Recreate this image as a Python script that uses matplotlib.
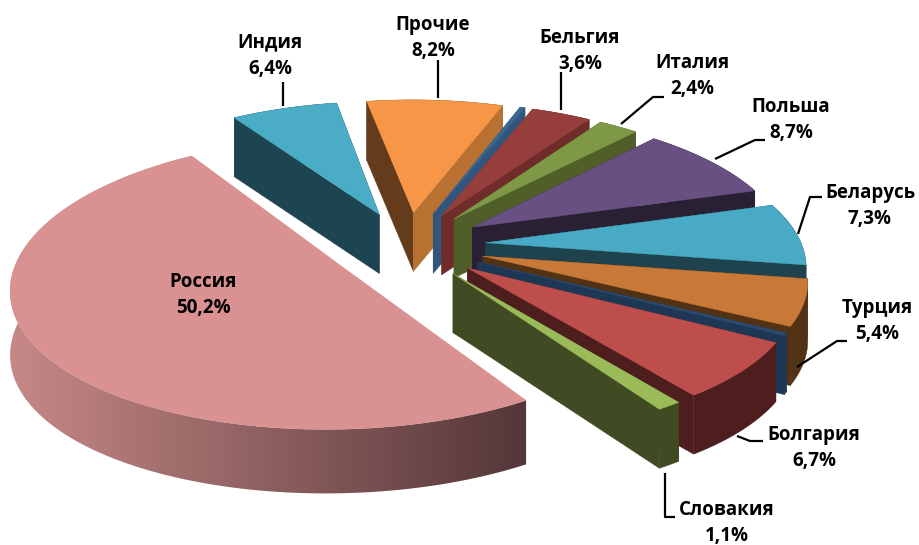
import numpy as np
import matplotlib
matplotlib.use('Agg')
import matplotlib.pyplot as plt
from matplotlib.patches import Polygon

# clockwise from Russia, the two blank names are the thin unlabelled slices
categories = ['Россия', 'Индия', 'Прочие', '', 'Бельгия', 'Италия', 'Польша',
              'Беларусь', 'Турция', '', 'Болгария', 'Словакия']
values = [50.2, 6.4, 8.2, 0.3, 3.6, 2.4, 8.7, 7.3, 5.4, 0.3, 6.7, 1.1]

top_colors = ['#d99191', '#4bacc6', '#f79646', '#3a6690', '#963e3c', '#7d9946',
              '#695082', '#48aac4', '#c87837', '#2a4a70', '#be4e4b', '#9bbb59']
wall_colors = ['#a87878', '#1e4450', '#643c1b', '#32557d', '#702c2a', '#505e2a',
               '#2a2034', '#1e424e', '#523214', '#1e3755', '#4e1e1e', '#404a23']
end_wall_colors = dict(zip(range(len(values)), wall_colors))
end_wall_colors[2] = '#b97132'

explode = [0.27, 0.25, 0.25, 0.25, 0.25, 0.25, 0.25, 0.25, 0.25, 0.25, 0.25, 0.25]
start_angle = 57.6

cx, cy = 407, 245
rx, ry = 316, 135
kx, ky = 0.145, 0.13
depth = 59
russia_depth = 64
# Russia sits a bit lower and is a bit deeper than the projection gives
russia_nudge = (5, -1)
russia_vscale = 1.02


def project(u, v):
    return cx + rx * u / (1 - kx * v), cy + ry * v / (1 - ky * v)


def to_pts(u, v):
    x, y = project(np.asarray(u, float), np.asarray(v, float))
    return np.column_stack([x, y])


def wall(pts, d=depth):
    return np.vstack([pts, (pts + [0, d])[::-1]])


fig = plt.figure(figsize=(9.19, 5.45), dpi=100)
ax = fig.add_axes([0, 0, 1, 1])

fracs = np.array(values) / sum(values) * 360
edges = start_angle + np.concatenate([[0], np.cumsum(fracs)])

# far slices first, Russia goes last
order = list(range(1, len(values))) + [0]
for i in order:
    a0, a1 = edges[i], edges[i + 1]
    mid = np.radians((a0 + a1) / 2)
    ax0, ay0 = explode[i] * np.cos(mid), explode[i] * np.sin(mid)
    th = np.radians(np.linspace(a0, a1, 120))
    vs = russia_vscale if i == 0 else 1.0
    arc = to_pts(ax0 + np.cos(th), ay0 + vs * np.sin(th))
    apex = to_pts([ax0], [ay0])
    if i == 0:
        arc = arc + russia_nudge
        apex = apex + russia_nudge

    if i == 0:
        # gradient on the big outer wall
        poly = Polygon(wall(arc, russia_depth), fc='none', ec='none')
        ax.add_patch(poly)
        c1 = np.array([200, 138, 136]) / 255
        c2 = np.array([84, 54, 56]) / 255
        t = np.linspace(0, 1, 256)[None, :, None]
        grad = c1 + (c2 - c1) * t
        im = ax.imshow(grad, extent=[0, 530, 545, 0], aspect='auto', zorder=1)
        im.set_clip_path(poly)
        top_z = 2
    else:
        ax.add_patch(Polygon(wall(arc), fc=wall_colors[i], ec=wall_colors[i], lw=0.3))
        ax.add_patch(Polygon(wall(np.vstack([apex, arc[:1]])), fc=wall_colors[i], ec=wall_colors[i], lw=0.3))
        ax.add_patch(Polygon(wall(np.vstack([apex, arc[-1:]])), fc=end_wall_colors[i], ec=end_wall_colors[i], lw=0.3))
        top_z = 1
    ax.add_patch(Polygon(np.vstack([apex, arc]), fc=top_colors[i], ec=top_colors[i], lw=0.3, zorder=top_z))

# leader lines
leaders = [
    [(283, 82), (283, 106)],
    [(438, 60), (438, 98)],
    [(561, 72), (561, 110)],
    [(621, 124), (653, 97), (664, 97)],
    [(715, 159), (755, 140), (765, 140)],
    [(798, 234), (810, 197), (822, 197)],
    [(797, 367), (837, 341), (847, 341)],
    [(737, 436), (750, 441), (763, 441)],
    [(665, 473), (665, 517), (675, 517)],
]
for line in leaders:
    xs, ys = zip(*line)
    ax.plot(xs, ys, color='black', lw=1.6, zorder=3, solid_capstyle='butt')

# label centres
label_xy = {
    'Россия': (203, 295), 'Индия': (270, 56), 'Прочие': (433, 38), 'Бельгия': (580, 51),
    'Италия': (692, 76), 'Польша': (791, 120), 'Беларусь': (870, 206), 'Турция': (877, 321),
    'Болгария': (814, 448), 'Словакия': (727, 523),
}
for name, val in zip(categories, values):
    if name == '':
        continue
    x, y = label_xy[name]
    txt = name + '\n' + str(val).replace('.', ',') + '%'
    ax.text(x, y, txt, ha='center', va='center', fontsize=13.5, fontweight='bold',
            family='Open Sans', color='black', linespacing=1.42, zorder=4)

ax.set_xlim(0, 919)
ax.set_ylim(545, 0)
ax.axis('off')
fig.savefig('out.png', dpi=100, facecolor='white')
